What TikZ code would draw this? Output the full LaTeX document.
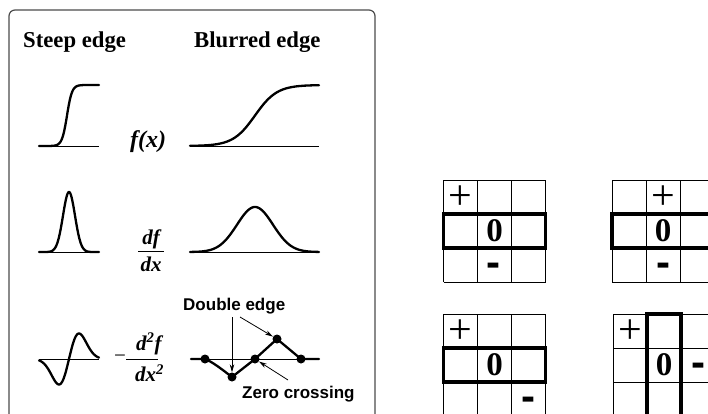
\documentclass[tikz,border=0pt]{standalone}
\usepackage{fontspec}
\setmainfont{Liberation Serif}
\newfontfamily\arialf{Liberation Sans}
\usetikzlibrary{arrows.meta}
\tikzset{
 panel/.style={line width=1.2pt, draw=black!70, rounded corners=6pt},
 axis/.style={line width=0.9pt},
 curve/.style={line width=2.3pt, line join=round, line cap=round},
 head/.style={font=\fontsize{22.7}{24}\selectfont\bfseries, inner sep=0pt},
 mathlbl/.style={font=\fontsize{21}{23}\selectfont\bfseries\itshape, inner sep=0pt},
 fxlbl/.style={font=\fontsize{24}{26}\selectfont\bfseries\itshape, inner sep=0pt},
 minuslbl/.style={font=\fontsize{21}{23}\selectfont, inner sep=0pt},
 note/.style={font=\arialf\fontsize{17}{19}\selectfont\bfseries, inner sep=0pt},
 pointer/.style={line width=0.8pt, -{Stealth[length=8pt,width=4.5pt]}},
 dot/.style={circle, fill, inner sep=0pt, minimum size=9pt},
 gridline/.style={line width=1pt},
 band/.style={line width=3.5pt},
 plus/.style={font=\fontsize{42}{42}\selectfont, inner sep=0pt},
 zero/.style={font=\fontsize{33}{33}\selectfont\bfseries, inner sep=0pt},
 minus/.style={font=\arialf\fontsize{42}{42}\selectfont\bfseries, inner sep=0pt, anchor=base},
 fracbar/.style={line width=0.8pt},
}
\newcommand\cellgrid[2]{%
  \foreach \k in {0,1,2,3}{%
    \draw[gridline] ({#1+34*\k},#2) -- ({#1+34*\k},{#2+102});
    \draw[gridline] (#1,{#2+34*\k}) -- ({#1+102},{#2+34*\k});
  }}
\begin{document}
\begin{tikzpicture}[x=1pt,y=-1pt,
  declare function={sig(\z)=(\z>=0)*(1/(1+exp(-abs(\z))))+(\z<0)*(exp(-abs(\z))/(1+exp(-abs(\z))));}]
\useasboundingbox (0,0) rectangle (708,414);
\begin{scope}
\clip (0,0) rectangle (708,414);
% panel
\draw[panel] (9,10) rectangle (375,440);
\node[head, anchor=base west] (steep) at (23,47.7) {Steep edge};
\node[head, anchor=base west] (blur) at (194,47.7) {Blurred edge};
% row 1: f(x)
\draw[axis] (39,146) -- (99,146);
\draw[curve] plot[domain=39:99, samples=121] (\x,{146-61*sig((\x-67)/2.5)});
\node[fxlbl, anchor=base west] (fx) at (130,148) {f(x)};
\draw[axis] (190,146) -- (319,146);
\draw[curve] plot[domain=190:319, samples=121] (\x,{146-61*sig((\x-255)/11)});
% row 2: df/dx
\draw[axis] (39,252) -- (99,252);
\draw[curve] plot[domain=39:99, samples=121] (\x,{252-60*exp(-((\x-69)^2)/72)});
\node[mathlbl, anchor=base] (dfn) at (151,244) {df};
\draw[fracbar] (138,251) -- (164,251);
\node[mathlbl, anchor=base] (dfd) at (151,271.5) {dx};
\draw[axis] (190,252) -- (319,252);
\draw[curve] plot[domain=190:319, samples=121] (\x,{252-45*exp(-((\x-255)^2)/648)});
% row 3: second derivative
\draw[axis] (39,359) -- (99,359);
\draw[curve] plot[domain=39:99, samples=121] (\x,{359-25.5*((\x-69)/10)*exp(0.5-((\x-69)^2)/200)});
\node[minuslbl] (neg) at (120,359) {−};
\draw[fracbar] (126,359) -- (158,359);
\node[mathlbl, anchor=base west] (d2f) at (136,350) {d\textsuperscript{2}f};
\node[mathlbl, anchor=base west] (dx2) at (135,381.7) {dx\textsuperscript{2}};
\draw[axis] (191,359) -- (319,359);
\node[dot] (p1) at (205,359) {};
\node[dot] (p2) at (232,377) {};
\node[dot] (p3) at (255,359) {};
\node[dot] (p4) at (277,339) {};
\node[dot] (p5) at (301,359) {};
\draw[curve] (191,359) -- (p1.center) .. controls (213,362) and (224,371) .. (p2.center)
  -- (p3.center) -- (p4.center) -- (p5.center) -- (319,359);
\node[note, anchor=base west] (de) at (183,310) {Double edge};
\node[note, anchor=base west] (zc) at (242,398) {Zero crossing};
\coordinate (t1) at (232,317);
\coordinate (t2) at (240,317);
\coordinate (t3) at (288,380);
\draw[pointer] (t1) -- (p2);
\draw[pointer] (t2) -- (p4);
\draw[pointer] (t3) -- (p3);
% grids
\cellgrid{443.5}{180}
\draw[band] (443.5,214) rectangle (545.5,248);
\node[plus] (g1p) at (460.5,198) {+};
\node[zero] (g1z) at (494.5,231) {0};
\node[minus] (g1m) at (493.5,276) {-};
\cellgrid{612}{180}
\draw[band] (612,214) rectangle (714,248);
\node[plus] (g2p) at (663,198) {+};
\node[zero] (g2z) at (663,231) {0};
\node[minus] (g2m) at (663,276) {-};
\cellgrid{443.5}{314}
\draw[band] (443.5,348) rectangle (545.5,382);
\node[plus] (g3p) at (460.5,332) {+};
\node[zero] (g3z) at (494.5,365) {0};
\node[minus] (g3m) at (528.5,410) {-};
\cellgrid{613}{314}
\draw[band] (647,314) rectangle (681,416);
\node[plus] (g4p) at (630,332) {+};
\node[zero] (g4z) at (664,365) {0};
\node[minus] (g4m) at (698,376) {-};
\end{scope}
\end{tikzpicture}
\end{document}
